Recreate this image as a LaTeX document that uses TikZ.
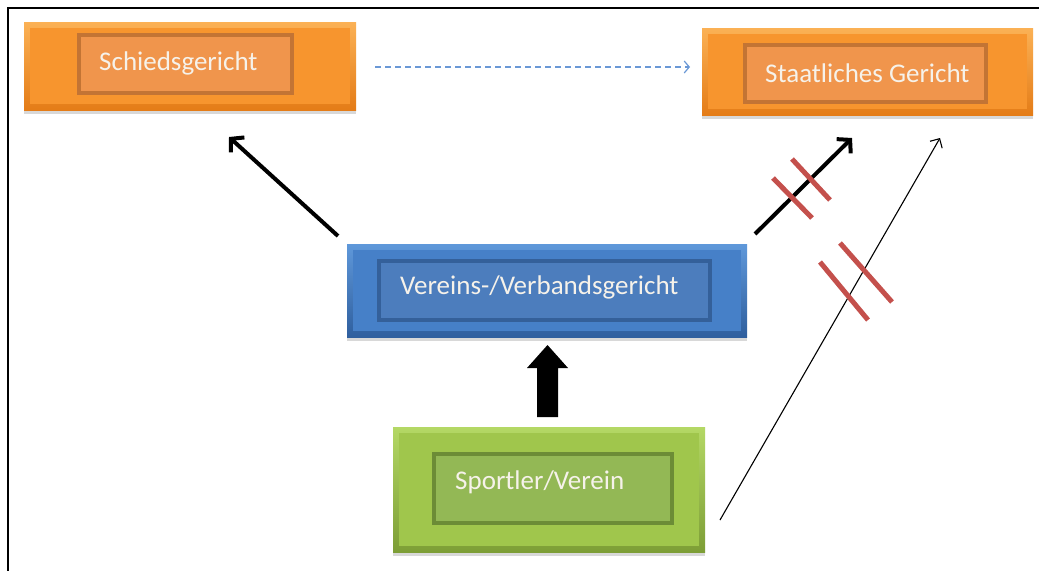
\documentclass[tikz,border=0pt]{standalone}
\usepackage{fontspec}
\setmainfont{Carlito}
\usetikzlibrary{arrows.meta,shadows}
\definecolor{orTop}{HTML}{FBB155}
\definecolor{orBot}{HTML}{E47C17}
\definecolor{orFace}{HTML}{F7952E}
\definecolor{orIn}{HTML}{F0954C}
\definecolor{orInB}{HTML}{C37434}
\definecolor{blTop}{HTML}{5F98DA}
\definecolor{blBot}{HTML}{2F5F9E}
\definecolor{blFace}{HTML}{4680C8}
\definecolor{blIn}{HTML}{4C7DBD}
\definecolor{blInB}{HTML}{34609A}
\definecolor{grTop}{HTML}{B4D865}
\definecolor{grBot}{HTML}{7D9E36}
\definecolor{grFace}{HTML}{A0C64C}
\definecolor{grIn}{HTML}{93B855}
\definecolor{grInB}{HTML}{6C8C36}
\definecolor{txtcol}{HTML}{F6F2EA}
\definecolor{dashcol}{HTML}{6A98D6}
\definecolor{strikecol}{HTML}{C4504C}
\tikzset{
  outerbox/.style n args={3}{draw=none, inner sep=0pt, top color=#1, bottom color=#2,
    drop shadow={opacity=0.3, shadow xshift=0pt, shadow yshift=-4pt},
    path picture={\fill[#3] ([shift={(6pt,-6pt)}]path picture bounding box.north west)
      rectangle ([shift={(-6pt,6pt)}]path picture bounding box.south east);}},
  innerbox/.style n args={2}{fill=#1, draw=#2, line width=3.5pt, inner sep=0pt},
  boxlabel/.style={anchor=west, text=txtcol, inner sep=0pt, font=\fontsize{27}{30}\selectfont},
  thickarrow/.style={line width=4pt, -{Straight Barb[length=9pt,width=20pt]}},
  thinarrow/.style={line width=1.1pt, -{Straight Barb[length=7pt,width=14pt]}},
  dasharrow/.style={draw=dashcol, line width=1.2pt, dash pattern=on 6pt off 4pt, -{Straight Barb[length=5pt,width=12pt]}},
  strikeline/.style={draw=strikecol, line width=5pt},
}
\begin{document}
\begin{tikzpicture}[x=1pt,y=-1pt]
\useasboundingbox (0,0) rectangle (1039,571);
\fill[white] (0,0) rectangle (1039,571);
\draw[line width=2.2pt] (1039,8) -- (8,8) -- (8,571);

% Schiedsgericht
\node[outerbox={orTop}{orBot}{orFace}, minimum width=332, minimum height=88] (so) at (190,66) {};
\node[innerbox={orIn}{orInB}, minimum width=213, minimum height=58] (si) at (185.5,64) {};
\node[boxlabel] (st) at (99,63) {Schiedsgericht};

% Staatliches Gericht
\node[outerbox={orTop}{orBot}{orFace}, minimum width=331, minimum height=87] (go) at (867.5,71.5) {};
\node[innerbox={orIn}{orInB}, minimum width=241, minimum height=57] (gi) at (865.5,73.5) {};
\node[boxlabel] (gt) at (765,73) {Staatliches Gericht};

% Vereins-/Verbandsgericht
\node[outerbox={blTop}{blBot}{blFace}, minimum width=400, minimum height=93] (vo) at (547,290.5) {};
\node[innerbox={blIn}{blInB}, minimum width=331, minimum height=59] (vi) at (544.5,290.5) {};
\node[boxlabel] (vt) at (400,287) {Vereins-/Verbandsgericht};

% Sportler/Verein
\node[outerbox={grTop}{grBot}{grFace}, minimum width=312, minimum height=125] (po) at (549,489.5) {};
\node[innerbox={grIn}{grInB}, minimum width=238, minimum height=69] (pi) at (553,488.5) {};
\node[boxlabel] (pt) at (455,482) {Sportler/Verein};

% connectors
\coordinate (d1) at (375,67);
\coordinate (d2) at (690,67);
\draw[dasharrow] (d1) -- (d2);

\coordinate (l1) at (338,236);
\coordinate (l2) at (229,137);
\draw[thickarrow] (l1) -- (l2);

\coordinate (r1) at (755,234);
\coordinate (r2) at (852,138);
\draw[thickarrow] (r1) -- (r2);

\coordinate (t1) at (720,520);
\coordinate (t2) at (940,138);
\draw[thinarrow] (t1) -- (t2);

% block arrow from Sportler to Verein
\fill[black] (537,417) -- (537,368) -- (527,368) -- (547.5,345) -- (568,368) -- (558,368) -- (558,417) -- cycle;

% strike marks
\draw[strikeline] (773,178) -- (812,218);
\draw[strikeline] (792,159) -- (830,200);
\draw[strikeline] (820,262) -- (868,320);
\draw[strikeline] (840,243) -- (892,302);
\end{tikzpicture}
\end{document}
